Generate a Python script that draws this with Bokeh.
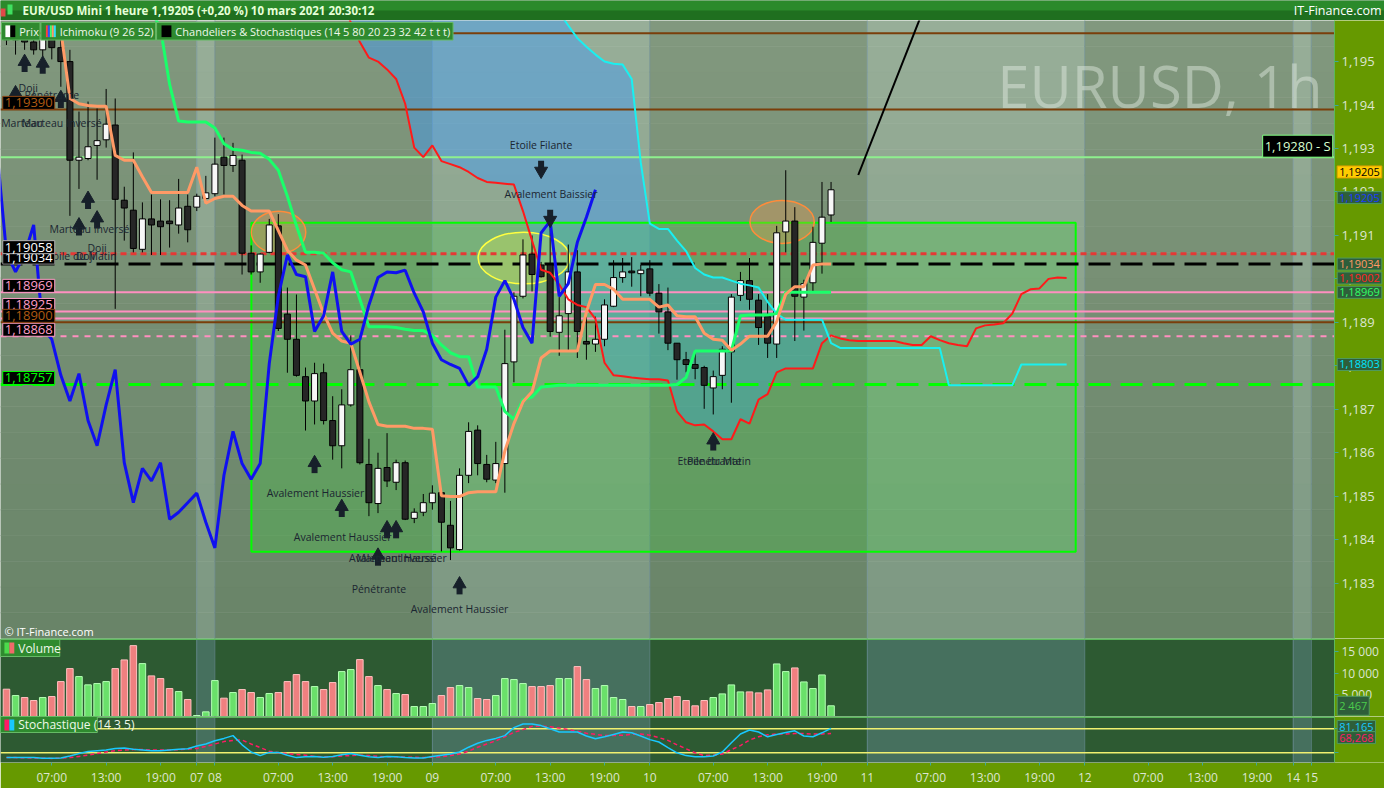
import numpy as np
from bokeh.plotting import figure
from bokeh.layouts import column
from bokeh.models import Range1d, FixedTicker, CustomJSTickFormatter, Label
from bokeh.core.properties import value
from bokeh.embed import file_html
from bokeh.resources import INLINE

FONT = "Open Sans"

# ---------------------------------------------------------------- data
# hourly bars, index 0 = Monday 8 March 2021 00:00 (weekend gap removed)
bar_index = list(range(-23, 69))

opens = [1.19572, 1.19550, 1.19572, 1.19545, 1.19527, 1.19554, 1.19532, 1.19500, 1.19273, 1.19277,
         1.19307, 1.19320, 1.19354, 1.19181, 1.19158, 1.19068, 1.19138, 1.19133, 1.19133, 1.19124,
         1.19167, 1.19165, 1.19185,
         1.19196, 1.19280, 1.19261, 1.19273, 1.19059, 1.19016, 1.19061, 1.19122, 1.18919, 1.18861,
         1.18775, 1.18719, 1.18784, 1.18674, 1.18616, 1.18710, 1.18791, 1.18573, 1.18483, 1.18566,
         1.18532, 1.18577, 1.18449, 1.18463, 1.18485,
         1.18508, 1.18433, 1.18377, 1.18548, 1.18652, 1.18573, 1.18537, 1.18575, 1.18809, 1.18960,
         1.19057, 1.19032, 1.19032, 1.18877, 1.18920, 1.19016, 1.18856, 1.18850, 1.18861, 1.18937,
         1.19003, 1.19018, 1.19012, 1.19023,
         1.18967, 1.18924, 1.18852, 1.18814, 1.18803, 1.18796, 1.18749, 1.18778, 1.18832, 1.18962,
         1.18996, 1.18951, 1.18913, 1.18850, 1.19108, 1.19133, 1.18958, 1.18991, 1.19082, 1.19147]
highs = [1.19583, 1.19590, 1.19583, 1.19561, 1.19572, 1.19572, 1.19550, 1.19527, 1.19385, 1.19408,
         1.19392, 1.19437, 1.19415, 1.19212, 1.19291, 1.19176, 1.19194, 1.19183, 1.19181, 1.19230,
         1.19194, 1.19196, 1.19237,
         1.19325, 1.19325, 1.19313, 1.19286, 1.19077, 1.19059, 1.19138, 1.19149, 1.18980, 1.18964,
         1.18796, 1.18807, 1.18805, 1.18730, 1.18746, 1.18870, 1.18868, 1.18632, 1.18600, 1.18645,
         1.18584, 1.18582, 1.18472, 1.18505, 1.18525,
         1.18514, 1.18489, 1.18564, 1.18670, 1.18663, 1.18595, 1.18625, 1.18883, 1.18969, 1.19091,
         1.19100, 1.19039, 1.19158, 1.18958, 1.19079, 1.19066, 1.18913, 1.18913, 1.18953, 1.19043,
         1.19048, 1.19050, 1.19032, 1.19043,
         1.18988, 1.18980, 1.18852, 1.18832, 1.18836, 1.18800, 1.18789, 1.18845, 1.18965, 1.19016,
         1.19048, 1.18965, 1.18965, 1.19122, 1.19250, 1.19165, 1.18998, 1.19120, 1.19223, 1.19223]
lows = [1.19538, 1.19516, 1.19527, 1.19516, 1.19509, 1.19505, 1.19442, 1.19145, 1.19207, 1.19273,
        1.19228, 1.19302, 1.18931, 1.19088, 1.19061, 1.19061, 1.19055, 1.19055, 1.19072, 1.19104,
        1.19084, 1.19156, 1.19183,
        1.19190, 1.19194, 1.19246, 1.19010, 1.19010, 1.18991, 1.19059, 1.18880, 1.18784, 1.18775,
        1.18651, 1.18665, 1.18665, 1.18584, 1.18564, 1.18706, 1.18573, 1.18454, 1.18461, 1.18521,
        1.18514, 1.18445, 1.18438, 1.18454, 1.18469,
        1.18373, 1.18353, 1.18375, 1.18530, 1.18548, 1.18532, 1.18530, 1.18508, 1.18762, 1.18955,
        1.18971, 1.19003, 1.18867, 1.18823, 1.18836, 1.18818, 1.18814, 1.18832, 1.18845, 1.18935,
        1.18991, 1.18982, 1.18960, 1.18960,
        1.18874, 1.18836, 1.18768, 1.18785, 1.18769, 1.18701, 1.18688, 1.18746, 1.18715, 1.18949,
        1.18929, 1.18848, 1.18818, 1.18818, 1.19061, 1.18857, 1.18881, 1.18971, 1.19012, 1.19131]
closes = [1.19550, 1.19572, 1.19545, 1.19527, 1.19554, 1.19532, 1.19500, 1.19273, 1.19280, 1.19304,
          1.19318, 1.19356, 1.19183, 1.19163, 1.19070, 1.19138, 1.19124, 1.19120, 1.19127, 1.19163,
          1.19113, 1.19190, 1.19198,
          1.19264, 1.19261, 1.19284, 1.19059, 1.19016, 1.19057, 1.19124, 1.18886, 1.18861, 1.18778,
          1.18719, 1.18782, 1.18674, 1.18616, 1.18710, 1.18791, 1.18577, 1.18485, 1.18564, 1.18535,
          1.18577, 1.18447, 1.18463, 1.18485, 1.18507,
          1.18440, 1.18381, 1.18548, 1.18649, 1.18575, 1.18539, 1.18575, 1.18805, 1.18960, 1.19055,
          1.19010, 1.19005, 1.18879, 1.18915, 1.19016, 1.18879, 1.18850, 1.18861, 1.18940, 1.19003,
          1.19016, 1.19014, 1.19020, 1.18967,
          1.18924, 1.18852, 1.18814, 1.18803, 1.18794, 1.18755, 1.18775, 1.18838, 1.18958, 1.18996,
          1.18953, 1.18888, 1.18852, 1.19106, 1.19133, 1.18960, 1.18989, 1.19084, 1.19142, 1.19205]
volumes = [6290, 4830, 4370, 3680, 4370, 4600, 8050, 11040, 9200, 7290, 7590, 8050, 11040, 13040,
           16330, 12190, 9360, 8740, 6440, 5750, 3910, 230, 1070,
           8280, 4220, 5520, 6210, 5520, 4370, 5290, 5520, 8050, 9660, 8050, 6900, 6210, 7820, 10350,
           10810, 13110, 9200, 7130, 6210, 5290, 5060, 2300, 2300, 2990,
           4830, 6670, 7130, 6670, 4140, 3910, 4830, 8740, 8510, 7590, 6900, 6900, 7130, 8740, 8740,
           11500, 8510, 6440, 7130, 4370, 3910, 2300, 2300, 2760,
           3220, 4140, 4600, 3680, 2460, 3680, 4370, 5210, 7280, 5670, 5670, 5440, 6130, 12110, 10350,
           11190, 7970, 6440, 9580, 2467]
stoch_k = [8.5, 8.5, 8.5, 8, 6.6, 6.6, 7, 12, 18, 23, 25, 27, 31, 32, 29, 27, 25, 25, 27, 29, 30, 37, 42,
           50, 56, 63, 40, 22, 13, 21, 21, 14, 8, 10, 11, 9, 11, 15, 18, 14, 10, 8, 11, 10, 8, 7, 7, 11,
           14, 17, 22, 34, 44, 51, 56, 63, 83, 92, 92, 88, 80, 72, 72, 72, 62, 55, 60, 66, 72, 70, 62, 53,
           47, 33, 20, 13, 10, 10, 12, 22, 45, 67, 77, 72, 60, 66, 71, 75, 62, 60, 70, 81.165]
stoch_d = [8.5, 8, 7.5, 7, 6.5, 6, 6.5, 8, 11, 14, 18, 22, 25, 27, 28, 28, 27, 27, 27, 28, 29, 31, 36,
           42, 48, 51, 52, 42, 33, 24, 20, 18, 16, 14, 11, 10, 10, 12, 13, 14, 13, 11, 10, 10, 9, 9, 8, 9,
           10, 13, 17, 24, 34, 42, 50, 60, 71, 78, 86, 87, 85, 82, 78, 74, 69, 66, 63, 63, 64, 66, 67, 64,
           58, 51, 40, 30, 20, 13, 14, 17, 28, 38, 52, 60, 65, 67, 67, 68, 68, 67, 67, 68.268]

tenkan_start = -8
tenkan = [1.19628, 1.19617, 1.19576, 1.19448, 1.19363, 1.19361, 1.19361, 1.19361, 1.19347, 1.19311,
          1.19298, 1.19296, 1.19291, 1.19289, 1.19275, 1.19250, 1.19190, 1.19122, 1.19061, 1.19061,
          1.19059, 1.19037, 1.19021, 1.19016, 1.18953, 1.18890, 1.18890, 1.18890, 1.18888, 1.18884,
          1.18881, 1.18881, 1.18870, 1.18848, 1.18830, 1.18821, 1.18821, 1.18751, 1.18751, 1.18751,
          1.18695, 1.18677, 1.18722, 1.18728, 1.18751, 1.18753,
          1.18755, 1.18755, 1.18755, 1.18755, 1.18755, 1.18755, 1.18755, 1.18755, 1.18755, 1.18755,
          1.18755, 1.18755, 1.18755,
          1.18757, 1.18773, 1.18834, 1.18834, 1.18834, 1.18834, 1.18834, 1.18915, 1.18917, 1.18917,
          1.18917, 1.18920, 1.18969, 1.18969, 1.18969, 1.18969, 1.18969, 1.18969]
kijun_start = -18
kijun = [1.19583, 1.19572, 1.19415, 1.19403, 1.19399, 1.19397, 1.19397, 1.19284, 1.19273, 1.19273,
         1.19235, 1.19199, 1.19199, 1.19199, 1.19199, 1.19199, 1.19257, 1.19174,
         1.19185, 1.19190, 1.19190, 1.19169, 1.19156, 1.19156, 1.19156, 1.19111, 1.19066, 1.19043,
         1.19032, 1.18976, 1.18920, 1.18875, 1.18857, 1.18852, 1.18785, 1.18717, 1.18665, 1.18661,
         1.18661, 1.18661, 1.18656, 1.18656, 1.18654, 1.18501, 1.18499, 1.18499, 1.18508, 1.18510,
         1.18510, 1.18510, 1.18604, 1.18667, 1.18717, 1.18740, 1.18818, 1.18834, 1.18834, 1.18834,
         1.18834, 1.18924, 1.18987, 1.18987, 1.18976, 1.18953, 1.18953, 1.18953, 1.18953, 1.18935,
         1.18940, 1.18915, 1.18913, 1.18913, 1.18875, 1.18861, 1.18859, 1.18836, 1.18850, 1.18868,
         1.18868, 1.18868, 1.18902, 1.18965, 1.18982, 1.18982, 1.19032, 1.19034, 1.19034]
span_start = 13
span_red = [1.19685, 1.19640, 1.19590, 1.19545, 1.19509, 1.19500, 1.19482, 1.19460, 1.19403, 1.19302,
            1.19280, 1.19307, 1.19271, 1.19264, 1.19257, 1.19246, 1.19232, 1.19223, 1.19221, 1.19219,
            1.19217, 1.19156, 1.19088, 1.19021, 1.19014, 1.18987, 1.18953, 1.18940, 1.18935, 1.18908,
            1.18807, 1.18778, 1.18776, 1.18773, 1.18771, 1.18769, 1.18769, 1.18766, 1.18695, 1.18670,
            1.18663, 1.18665, 1.18649, 1.18631, 1.18631, 1.18677, 1.18667, 1.18722, 1.18735, 1.18785,
            1.18794, 1.18794, 1.18794, 1.18794, 1.18852, 1.18870, 1.18863, 1.18859, 1.18857, 1.18857,
            1.18857, 1.18857, 1.18857, 1.18852, 1.18848, 1.18848, 1.18868, 1.18859, 1.18852, 1.18848,
            1.18845, 1.18886, 1.18893, 1.18895, 1.18898, 1.18920, 1.18965, 1.18976, 1.18978, 1.19000,
            1.19003, 1.19002]
span_cyan = [1.19730, 1.19730, 1.19730, 1.19730, 1.19730, 1.19730, 1.19730, 1.19730, 1.19730, 1.19730,
             1.19730, 1.19730, 1.19730, 1.19730, 1.19730, 1.19730, 1.19730, 1.19730, 1.19730, 1.19730,
             1.19730, 1.19730, 1.19730, 1.19707, 1.19662, 1.19613, 1.19583, 1.19554, 1.19534, 1.19516,
             1.19500, 1.19495, 1.19493, 1.19460, 1.19268, 1.19127, 1.19115, 1.19115, 1.19088, 1.19064,
             1.19025, 1.19010, 1.19003, 1.19003, 1.18996, 1.18989, 1.18985, 1.18980, 1.18947, 1.18920,
             1.18906, 1.18906, 1.18906, 1.18906, 1.18906, 1.18852, 1.18841, 1.18841, 1.18841, 1.18841,
             1.18841, 1.18841, 1.18841, 1.18841, 1.18841, 1.18841, 1.18841, 1.18841, 1.18755, 1.18755,
             1.18755, 1.18755, 1.18755, 1.18755, 1.18755, 1.18755, 1.18803, 1.18803, 1.18803, 1.18803,
             1.18803, 1.18803]

# horizontal levels
levels = [1.19565, 1.19390, 1.19280, 1.19058, 1.19034, 1.18969, 1.18925, 1.18909, 1.18900, 1.18868, 1.18757]
level_colors = ["#7a3e0a", "#7a3e0a", "#8ef08e", "#e53935", "#000000", "#ff8fc0", "#ff8fc0",
                "#ff8fc0", "#7a3e0a", "#ff8fc0", "#00ff00"]
level_dash = ["solid", "solid", "solid", "6 4", "22 10", "solid", "solid", "solid", "solid", "6 6", "22 10"]
level_width = [2, 2, 2, 3, 3, 2, 2, 2, 2, 2, 3]

# zone rectangle, ellipses, trend line
zone = dict(left=4.03, right=95.0, top=1.19129, bottom=1.18372)
ellipse_x = [7.03, 34.1, 62.6]
ellipse_y = [1.19107, 1.19048, 1.19131]
ellipse_w = [6.0, 10.1, 7.1]
ellipse_h = [0.00097, 0.00119, 0.00099]
ellipse_fill = ["#ff9a4a", "#e8f050", "#ff9a4a"]
ellipse_line = ["#ff8c3a", "#ffff40", "#ff8c3a"]
trend_x = [71, 79]
trend_y = [1.19239, 1.19662]

# candle-pattern annotations
up_arrow_x = [-21, -19, -22, -17, -14, -13, -15, 11, 14, 19, 20, 18, 27, 55]
up_arrow_tip = [1.19509, 1.19505, 1.19437, 1.19426, 1.19194, 1.19149, 1.19133, 1.18586, 1.18485,
                1.18436, 1.18436, 1.18373, 1.18307, 1.18638]
down_arrow_x = [36, 37]
down_arrow_tip = [1.19239, 1.19126]
pattern_names = ["Doji", "Pénétrante", "Marteau", "Marteau Inversé", "Marteau Inversé", "Doji",
                 "Etoile du Matin", "Doji", "Etoile Filante", "Avalement Baissier", "Avalement Haussier",
                 "Avalement Haussier", "Marteau Inversé", "Avalement Haussier", "Pénétrante",
                 "Avalement Haussier", "Etoile du Matin", "Pénétrante"]
pattern_x = [-20.6, -18.0, -21.3, -16.9, -13.85, -13.0, -14.9, -14.3, 36.0, 37.1, 11.1, 14.1, 20.0,
             20.2, 18.1, 27.0, 55.1, 55.1]
pattern_y = [1.19439, 1.19424, 1.19358, 1.19358, 1.19115, 1.19070, 1.19052, 1.19052, 1.19309, 1.19196,
             1.18508, 1.18406, 1.18357, 1.18357, 1.18287, 1.18240, 1.18580, 1.18582]

# axes
price_ticks = [1.183, 1.184, 1.185, 1.186, 1.187, 1.188, 1.189, 1.190, 1.191, 1.192, 1.193, 1.194, 1.195]
volume_ticks = [5000, 10000, 15000]
time_ticks = [-18, -12, -6, -2, 0, 7, 13, 19, 24, 31, 37, 43, 48, 55, 61, 67, 72, 79, 85, 91, 96,
              103, 109, 115, 119, 121]
time_labels = ["07:00", "13:00", "19:00", "07", "08", "07:00", "13:00", "19:00", "09", "07:00", "13:00",
               "19:00", "10", "07:00", "13:00", "19:00", "11", "07:00", "13:00", "19:00", "12", "07:00",
               "13:00", "19:00", "14", "15"]
day_left = [-23.66, -2, 0, 24, 48, 72, 96, 119, 121]
day_right = [-2, 0, 24, 48, 72, 96, 119, 121, 123.56]
day_light = [False, True, False, True, False, True, False, True, False]

# ---------------------------------------------------------------- layout
FRAME_W = 1384                      # plot area (1334 px) + price-scale strip (50 px)
X_START, X_END = -23.66, 123.56
X_STRIP = X_END + 50.0 * (X_END - X_START) / 1334.0
AXIS_BG = "#669900"
AXIS_TXT = "#dde6d2"
FRAME_LINE = "#5cb85c"


def ref_x(px):
    return (px - 217.0) / 9.17


def ref_y(py):
    return 1.196395 - 0.0000225 * py


def ref_vol(py):
    return (730.0 - py) / 4.34 * 1000.0


def ref_sto(py):
    return (775.3 - py) / 0.4


def hexc(rgb):
    return "#%02x%02x%02x" % tuple(int(round(v)) for v in rgb)


def draw_bands(p, y_lo, y_hi, dark_top, dark_bot, light_top, light_bot, strips):
    edges = np.linspace(y_lo, y_hi, strips + 1)
    L, R, B, T, C = [], [], [], [], []
    for bl, br, lt in zip(day_left, day_right, day_light):
        tc, bc = (light_top, light_bot) if lt else (dark_top, dark_bot)
        for k in range(strips):
            f = (k + 0.5) / strips
            col = hexc([bc[j] + (tc[j] - bc[j]) * f for j in range(3)])
            L.append(bl); R.append(br); B.append(edges[k]); T.append(edges[k + 1]); C.append(col)
    p.quad(left=L, right=R, bottom=B, top=T, fill_color=C, line_color=C, line_width=0.6)
    edges_x = sorted(set(day_left[1:]))
    p.segment(x0=edges_x, x1=edges_x, y0=[y_lo] * len(edges_x), y1=[y_hi] * len(edges_x),
              line_color="#6f8fa6", line_alpha=0.55, line_width=1)


def strip(p, y_lo, y_hi):
    p.quad(left=[X_END], right=[X_STRIP + 1], bottom=[y_lo], top=[y_hi], fill_color=AXIS_BG,
           line_color=None)


def style_y(ax, ticks, code, size="13px"):
    ax.fixed_location = X_END
    ax.ticker = FixedTicker(ticks=ticks, minor_ticks=[])
    ax.formatter = CustomJSTickFormatter(code=code)
    ax.axis_line_color = FRAME_LINE
    ax.axis_line_width = 1
    ax.major_tick_line_color = "#3fa79a"
    ax.major_tick_out = 4
    ax.major_tick_in = 0
    ax.minor_tick_line_color = None
    ax.major_label_text_color = AXIS_TXT
    ax.major_label_text_font = FONT
    ax.major_label_text_font_size = size
    ax.major_label_standoff = 3


def new_fig(frame_h, y_range, bottom=0):
    p = figure(frame_width=FRAME_W, frame_height=frame_h, x_range=x_range, y_range=y_range,
               output_backend="svg", toolbar_location=None, y_axis_location="right",
               min_border_left=0, min_border_right=0, min_border_top=0, min_border_bottom=bottom,
               border_fill_color=AXIS_BG, outline_line_color=None)
    p.grid.visible = False
    return p


def value_box(p, x, y, text, color, bg="#2e5e3a", border="#4f9a5f", align="left", baseline="middle",
              size="13px"):
    p.add_layout(Label(x=x, y=y, text=text, text_color=color, text_font=FONT, text_font_size=size,
                       text_align=align, text_baseline=baseline, background_fill_color=bg,
                       background_fill_alpha=1.0, border_line_color=border, border_line_width=1,
                       padding=2))


idx = np.array(bar_index, dtype=float)
o = np.array(opens); h = np.array(highs); lo = np.array(lows); c = np.array(closes)
up = c >= o
x_range = Range1d(X_START, X_STRIP)

# ---------------------------------------------------------------- header
header = figure(frame_width=1384, frame_height=20, x_range=Range1d(0, 1384), y_range=Range1d(0, 20),
                output_backend="svg", toolbar_location=None, x_axis_type=None, y_axis_type=None,
                min_border_left=0, min_border_right=0, min_border_top=0, min_border_bottom=0,
                outline_line_color=None, background_fill_color="#1f6f1f", border_fill_color="#1f6f1f")
header.grid.visible = False
header.quad(left=[0], right=[1384], bottom=[10], top=[20], fill_color="#2b8a2b", line_color=None)
header.quad(left=[0, 7], right=[5, 12], bottom=[4, 6], top=[12, 16], fill_color=["#e04848", "#40e060"],
            line_color=None)
header.text(x=[22], y=[10], text=["EUR/USD Mini 1 heure 1,19205 (+0,20 %) 10 mars 2021 20:30:12"],
            text_font=value(FONT), text_font_size="11.5px", text_font_style="bold", text_color="#e6ffd8",
            text_baseline="middle")
header.text(x=[1381], y=[10], text=["IT-Finance.com"], text_font=value(FONT), text_font_size="12.5px",
            text_color="#ffffff", text_baseline="middle", text_align="right")

# ---------------------------------------------------------------- main price panel
MY0, MY1 = ref_y(652), ref_y(20)
main = new_fig(618, Range1d(MY0, MY1))
main.xaxis.visible = False
style_y(main.yaxis[0], price_ticks, "return tick.toFixed(3).replace('.', ',');")
draw_bands(main, MY0, MY1, (130, 152, 126), (104, 132, 104), (152, 174, 152), (124, 152, 130), 24)

main.text(x=[ref_x(1338)], y=[ref_y(86)], text=["EURUSD, 1h"], text_font=value(FONT),
          text_font_size="58px", text_color="#e4ede4", text_alpha=0.45, text_align="right",
          text_baseline="alphabetic")

span_x = np.arange(span_start, span_start + len(span_red))
sr = np.array(span_red); sc = np.array(span_cyan)
main.varea(x=span_x, y1=sr, y2=np.maximum(sr, sc), fill_color="#3a9cff", fill_alpha=0.42)
main.quad(left=[zone["left"]], right=[zone["right"]], top=[zone["top"]], bottom=[zone["bottom"]],
          fill_color="#3fd03f", fill_alpha=0.28, line_color="#00ff00", line_width=2)
main.ellipse(x=ellipse_x, y=ellipse_y, width=ellipse_w, height=ellipse_h, fill_color=ellipse_fill,
             fill_alpha=0.3, line_color=ellipse_line, line_width=1.5)

for lv, col, dash, wd in zip(levels, level_colors, level_dash, level_width):
    main.line(x=[X_START, X_END], y=[lv, lv], line_color=col, line_dash=dash, line_width=wd)
main.line(x=trend_x, y=trend_y, line_color="#000000", line_width=2)

main.segment(x0=idx, y0=lo, x1=idx, y1=h, line_color="#000000", line_width=1)
main.vbar(x=idx[up], width=0.66, top=c[up], bottom=o[up], fill_color="#f7f7f7", line_color="#000000",
          line_width=1)
main.vbar(x=idx[~up], width=0.66, top=o[~up], bottom=c[~up], fill_color="#262626", line_color="#000000",
          line_width=1)

main.line(x=span_x, y=sr, line_color="#ff1a1a", line_width=2)
main.line(x=span_x, y=sc, line_color="#19f0f0", line_width=2)
main.line(x=np.arange(tenkan_start, tenkan_start + len(tenkan)), y=tenkan, line_color="#1aff6a",
          line_width=3)
main.line(x=np.arange(kijun_start, kijun_start + len(kijun)), y=kijun, line_color="#ff9a66", line_width=3)
main.line(x=idx - 26, y=c, line_color="#1010f0", line_width=3)

ARROW = 0.00033
ua_x = np.array(up_arrow_x, dtype=float); ua_t = np.array(up_arrow_tip)
da_x = np.array(down_arrow_x, dtype=float); da_t = np.array(down_arrow_tip)
main.segment(x0=ua_x, y0=ua_t - 0.45 * ARROW, x1=ua_x, y1=ua_t - ARROW, line_color="#17202a", line_width=6)
main.scatter(x=ua_x, y=ua_t - 0.28 * ARROW, marker="triangle", size=13, fill_color="#17202a",
             line_color="#17202a")
main.segment(x0=da_x, y0=da_t + 0.45 * ARROW, x1=da_x, y1=da_t + ARROW, line_color="#17202a", line_width=6)
main.scatter(x=da_x, y=da_t + 0.28 * ARROW, marker="inverted_triangle", size=13, fill_color="#17202a",
             line_color="#17202a")
main.text(x=pattern_x, y=pattern_y, text=pattern_names, text_font=value(FONT), text_font_size="10.5px",
          text_color="#1b2631", text_align="center", text_baseline="middle")

main.text(x=[ref_x(4)], y=[ref_y(645)], text=["© IT-Finance.com"], text_font=value(FONT),
          text_font_size="11px", text_color="#ffffff", text_baseline="middle")
strip(main, MY0 - 1, MY1 + 1)

# left price boxes
LX = X_START + 0.25
value_box(main, LX, 1.19034, "1,19034", "#ffffff", "#000000", "#888888", baseline="bottom")
value_box(main, LX, 1.19058, "1,19058", "#ffffff", "#000000", "#b0b0b0", baseline="bottom")
value_box(main, LX, 1.18969, "1,18969", "#ff9ec8", "#000000", "#ff9ec8", baseline="bottom")
value_box(main, LX, 1.18925, "1,18925", "#ff9ec8", "#000000", "#ff9ec8", baseline="bottom")
value_box(main, LX, 1.18868, "1,18868", "#ff9ec8", "#000000", "#ff9ec8", baseline="bottom")
value_box(main, LX, 1.18900, "1,18900", "#b05a12", "#000000", "#8b4513", baseline="bottom")
value_box(main, LX, 1.18757, "1,18757", "#00ff00", "#000000", "#00ff00", baseline="bottom")
value_box(main, LX, 1.19390, "1,19390", "#b05a12", "#000000", "#8b4513", baseline="bottom")
value_box(main, X_END - 0.2, 1.19280, "1,19280 - S", "#d8ffd0", "#000000", "#80ff80", align="right",
          baseline="bottom")

# right value boxes (inside the price-scale strip)
RX = X_END + 0.3
RS = "11px"
value_box(main, RX, 1.19246, "1,19205", "#000000", "#ffcc00", "#e0a000", size=RS)
value_box(main, RX, 1.19187, "1,19205", "#1a3cff", size=RS)
value_box(main, RX, 1.19034, "1,19034", "#ff9966", size=RS)
value_box(main, RX, 1.19002, "1,19002", "#ff2424", size=RS)
value_box(main, RX, 1.18969, "1,18969", "#33ff66", size=RS)
value_box(main, RX, 1.18803, "1,18803", "#00e5ff", size=RS)

# legend row
lt, lb = ref_y(22), ref_y(40)
main.quad(left=[ref_x(1), ref_x(41), ref_x(158)], right=[ref_x(40), ref_x(157), ref_x(458)],
          top=[lt] * 3, bottom=[lb] * 3, fill_color="#2f8a2f", line_color="#66bb66", level="overlay")
it, ib = ref_y(25), ref_y(37)
main.quad(left=[ref_x(5), ref_x(10), ref_x(46), ref_x(48), ref_x(50), ref_x(52), ref_x(54), ref_x(163)],
          right=[ref_x(10), ref_x(15), ref_x(48), ref_x(50), ref_x(52), ref_x(54), ref_x(56), ref_x(173)],
          top=[it] * 8, bottom=[ib] * 8,
          fill_color=["#ffffff", "#000000", "#ff4040", "#3050ff", "#40ff70", "#ff9966", "#30e0ff", "#000000"],
          line_color=None, level="overlay")
main.text(x=[ref_x(19), ref_x(60), ref_x(177)], y=[ref_y(31)] * 3,
          text=["Prix", "Ichimoku (9 26 52)", "Chandeliers & Stochastiques (14 5 80 20 23 32 42 t t t)"],
          text_font=value(FONT), text_font_size="11px", text_color="#eef8ea", text_baseline="middle",
          level="overlay")

# ---------------------------------------------------------------- volume panel
VY0, VY1 = 0, ref_vol(652)
vol = new_fig(78, Range1d(VY0, VY1))
vol.xaxis.visible = False
style_y(vol.yaxis[0], volume_ticks, "return (tick / 1000) + ' 000';", size="12px")
draw_bands(vol, VY0, VY1, (45, 90, 50), (45, 90, 50), (70, 112, 94), (70, 112, 94), 1)
v = np.array(volumes)
vol.vbar(x=idx, width=0.72, top=v, bottom=0,
         fill_color=np.where(up, "#6ae06a", "#f08080").tolist(),
         line_color=np.where(up, "#b4ffb4", "#ffc0c0").tolist(), line_width=1)
strip(vol, VY0 - 100, VY1 + 100)
vol.line(x=[X_START, X_END], y=[VY1, VY1], line_color=FRAME_LINE, line_width=3)
vol.quad(left=[ref_x(0)], right=[ref_x(60)], top=[ref_vol(653)], bottom=[ref_vol(670)],
         fill_color="#2f8a2f", line_color="#66bb66", level="overlay")
vol.quad(left=[ref_x(4), ref_x(9)], right=[ref_x(9), ref_x(14)], top=[ref_vol(656)] * 2,
         bottom=[ref_vol(667)] * 2, fill_color=["#4cd94c", "#f06a6a"], line_color=None, level="overlay")
vol.text(x=[ref_x(18)], y=[ref_vol(661.5)], text=["Volume"], text_font=value(FONT), text_font_size="12px",
         text_color="#eef8ea", text_baseline="middle", level="overlay")
value_box(vol, RX, 2467, "2 467", "#4ccc4c", size=RS)

# ---------------------------------------------------------------- stochastic panel
SY0, SY1 = ref_sto(777), ref_sto(731)
sto = new_fig(46, Range1d(SY0, SY1), bottom=22)
style_y(sto.yaxis[0], [20, 80], "return '';", size="12px")
draw_bands(sto, SY0, SY1, (45, 90, 50), (45, 90, 50), (70, 112, 94), (70, 112, 94), 1)
for lvl in (20, 80):
    sto.line(x=[X_START, X_END], y=[lvl, lvl], line_color="#f0f070", line_width=1.5)
sto.line(x=idx, y=stoch_d, line_color="#ff1a66", line_width=1.5, line_dash="4 3")
sto.line(x=idx, y=stoch_k, line_color="#19c8ff", line_width=1.5)
strip(sto, SY0 - 10, SY1 + 10)
sto.line(x=[X_START, X_END], y=[SY1, SY1], line_color=FRAME_LINE, line_width=3)
sto.quad(left=[ref_x(0)], right=[ref_x(98)], top=[ref_sto(731)], bottom=[ref_sto(747)],
         fill_color="#2f8a2f", line_color="#66bb66", level="overlay")
sto.quad(left=[ref_x(4), ref_x(9)], right=[ref_x(9), ref_x(14)], top=[ref_sto(734)] * 2,
         bottom=[ref_sto(745)] * 2, fill_color=["#ff1a66", "#19c8ff"], line_color=None, level="overlay")
sto.text(x=[ref_x(18)], y=[ref_sto(739)], text=["Stochastique (14 3 5)"], text_font=value(FONT),
         text_font_size="12px", text_color="#eef8ea", text_baseline="middle", level="overlay")
value_box(sto, RX, 85.7, "81,165", "#19c8ff", size=RS)
value_box(sto, RX, 58.0, "68,268", "#ff1a66", size=RS)

xa = sto.xaxis[0]
xa.ticker = FixedTicker(ticks=time_ticks, minor_ticks=[])
xa.major_label_overrides = {t: s for t, s in zip(time_ticks, time_labels)}
xa.axis_line_color = None
xa.major_tick_line_color = "#3fa79a"
xa.major_tick_out = 3
xa.major_tick_in = 0
xa.minor_tick_line_color = None
xa.major_label_text_color = AXIS_TXT
xa.major_label_text_font = FONT
xa.major_label_text_font_size = "12px"
xa.major_label_standoff = 3

layout = column(header, main, vol, sto, spacing=0)
open("out.html", "w").write(file_html(layout, INLINE))
